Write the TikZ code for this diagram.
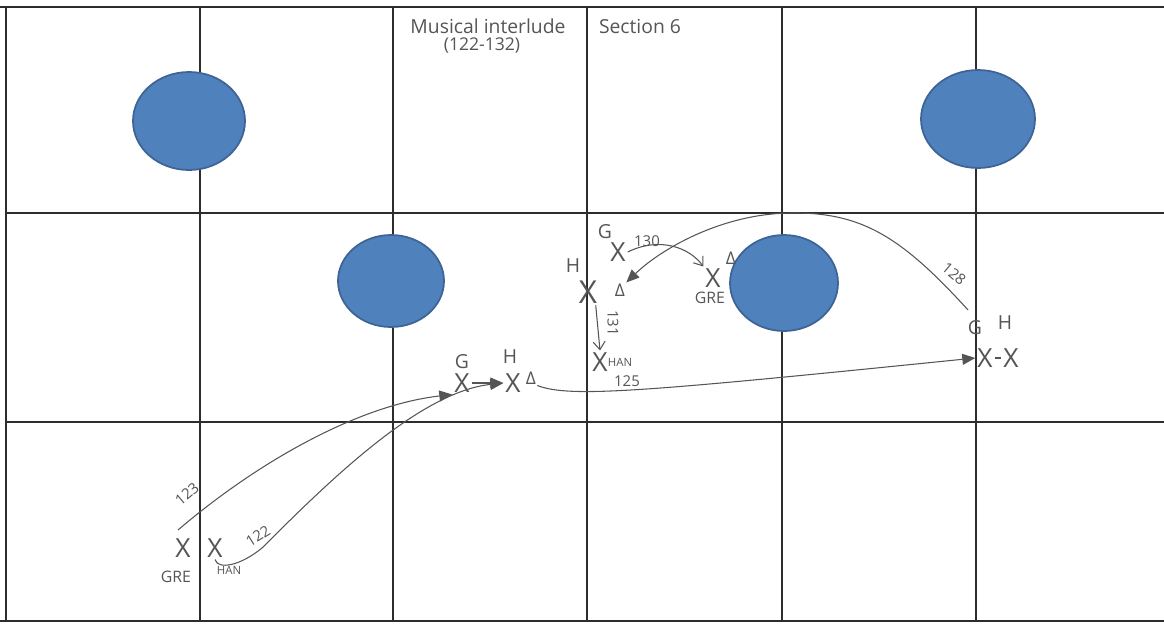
\documentclass[tikz,border=0pt]{standalone}
\usepackage{fontspec}
\setmainfont{Open Sans}
\usetikzlibrary{arrows.meta}
\definecolor{sgline}{RGB}{45,45,45}
\definecolor{sgpen}{RGB}{85,85,85}
\definecolor{sgprop}{RGB}{79,129,189}
\definecolor{sgpropd}{RGB}{62,100,150}
\tikzset{
  gridl/.style={draw=sgline, line width=0.6pt},
  prop/.style={fill=sgprop, draw=sgpropd, line width=1pt},
  spot/.style={font=\fontsize{15}{15}\selectfont, text=sgpen, inner sep=1pt},
  who/.style={font=\fontsize{11}{11}\selectfont, text=sgpen, inner sep=1pt},
  tag/.style={font=\fontsize{9}{9}\selectfont, text=sgpen, inner sep=1pt},
  tiny/.style={font=\fontsize{6.5}{7}\selectfont, text=sgpen, inner sep=1pt},
  face/.style={font=\fontsize{10}{10}\selectfont, text=sgpen, inner sep=0.5pt},
  cnt/.style={font=\fontsize{8.5}{9}\selectfont, text=sgpen, inner sep=0.5pt},
  arr/.style={-{Triangle[length=2.6mm,width=2.2mm]}, draw=sgpen, line width=0.6pt},
  barb/.style={-{Straight Barb[length=1.6mm,width=2.4mm]}, draw=sgpen, line width=0.6pt},
  ttl/.style={font=\fontsize{11}{12}\selectfont, text=sgpen, align=center, inner sep=1pt}
}
\begin{document}
\begin{tikzpicture}[x=0.02cm,y=-0.02cm]
  \useasboundingbox (0,0) rectangle (1164,626);
  % stage grid
  \draw[gridl] (0,7) -- (1164,7);
  \draw[gridl] (0,621) -- (1164,621);
  \draw[gridl] (6,213) -- (1164,213);
  \draw[gridl] (6,422) -- (1164,422);
  \foreach \x in {6,200,393,587,782,976}
    \draw[gridl] (\x,7) -- (\x,621);

  % set pieces
  \draw[prop] (189,121) ellipse [x radius=1.12cm, y radius=0.98cm];
  \draw[prop] (391,281) ellipse [x radius=1.06cm, y radius=0.92cm];
  \draw[prop] (784,283) ellipse [x radius=1.08cm, y radius=0.96cm];
  \draw[prop] (978,119) ellipse [x radius=1.14cm, y radius=0.98cm];

  \node[ttl] (title) at (488,26) {Musical interlude};
  \node[ttl, font=\fontsize{10}{11}\selectfont] (bars) at (482,46) {(122-132)};
  \node[ttl] (sect) at (640,26) {Section 6};

  % start, bottom left
  \node[spot] (greA) at (183,548) {X};
  \node[tag] (greAt) at (176,577) {GRE};
  \node[spot] (hanA) at (215,548) {X};
  \node[tiny] (hanAt) at (229,570) {HAN};

  % centre pair
  \node[who] (gB) at (462,362) {G};
  \node[spot] (gBx) at (462,383) {X};
  \node[who] (hB) at (510,357) {H};
  \node[spot] (hBx) at (513,383) {X};
  \node[face] (hBf) at (531,378) {Δ};
  \draw[arr] (gBx.east) -- (hBx.west);

  % right pair
  \node[who] (gC) at (975,328) {G};
  \node[who] (hC) at (1005,323) {H};
  \node[spot] (gCx) at (985,358) {X};
  \node[spot] (hCx) at (1011,358) {X};
  \draw[draw=sgpen, line width=0.6pt] (gCx.east) -- (hCx.west);

  % upper cluster
  \node[who] (gD) at (605,232) {G};
  \node[spot] (gDx) at (618,252) {X};
  \node[who] (hD) at (573,266) {H};
  \node[spot, font=\fontsize{18}{18}\selectfont] (hDx) at (588,292) {X};
  \node[face] (hDf) at (620,290) {Δ};
  \node[spot] (greD) at (713,278) {X};
  \node[tag] (greDt) at (710,298) {GRE};
  \node[face] (greDf) at (731,258) {Δ};
  \node[spot] (hanD) at (600,362) {X};
  \node[tiny] (hanDt) at (620,362) {HAN};

  % paths
  \coordinate (s123) at (178,530);
  \draw[arr] (s123) .. controls (260,460) and (360,405) .. (gBx.south west);
  \node[cnt, rotate=40] (c123) at (187,494) {123};
  \draw[arr] (hanA.south) .. controls (218,570) and (240,566) .. (262,548)
    .. controls (330,480) and (420,392) .. (hBx.west);
  \node[cnt, rotate=32] (c122) at (258,536) {122};
  \draw[arr] (hBf.south east) .. controls (570,398) and (640,392) .. (gCx.west);
  \node[cnt] (c125) at (627,381) {125};
  \coordinate (s128) at (968,310);
  \draw[arr] (s128) .. controls (900,235) and (860,212) .. (790,213)
    .. controls (720,214) and (660,250) .. (hDf.north east);
  \node[cnt, rotate=-40] (c128) at (954,274) {128};
  \draw[barb] (gDx.east) .. controls (660,236) and (690,248) .. (greD.north west);
  \node[cnt] (c130) at (647,241) {130};
  \draw[barb] (hDx.-60) -- (hanD.north);
  \node[cnt, rotate=-90] (c131) at (613,323) {131};
\end{tikzpicture}
\end{document}
